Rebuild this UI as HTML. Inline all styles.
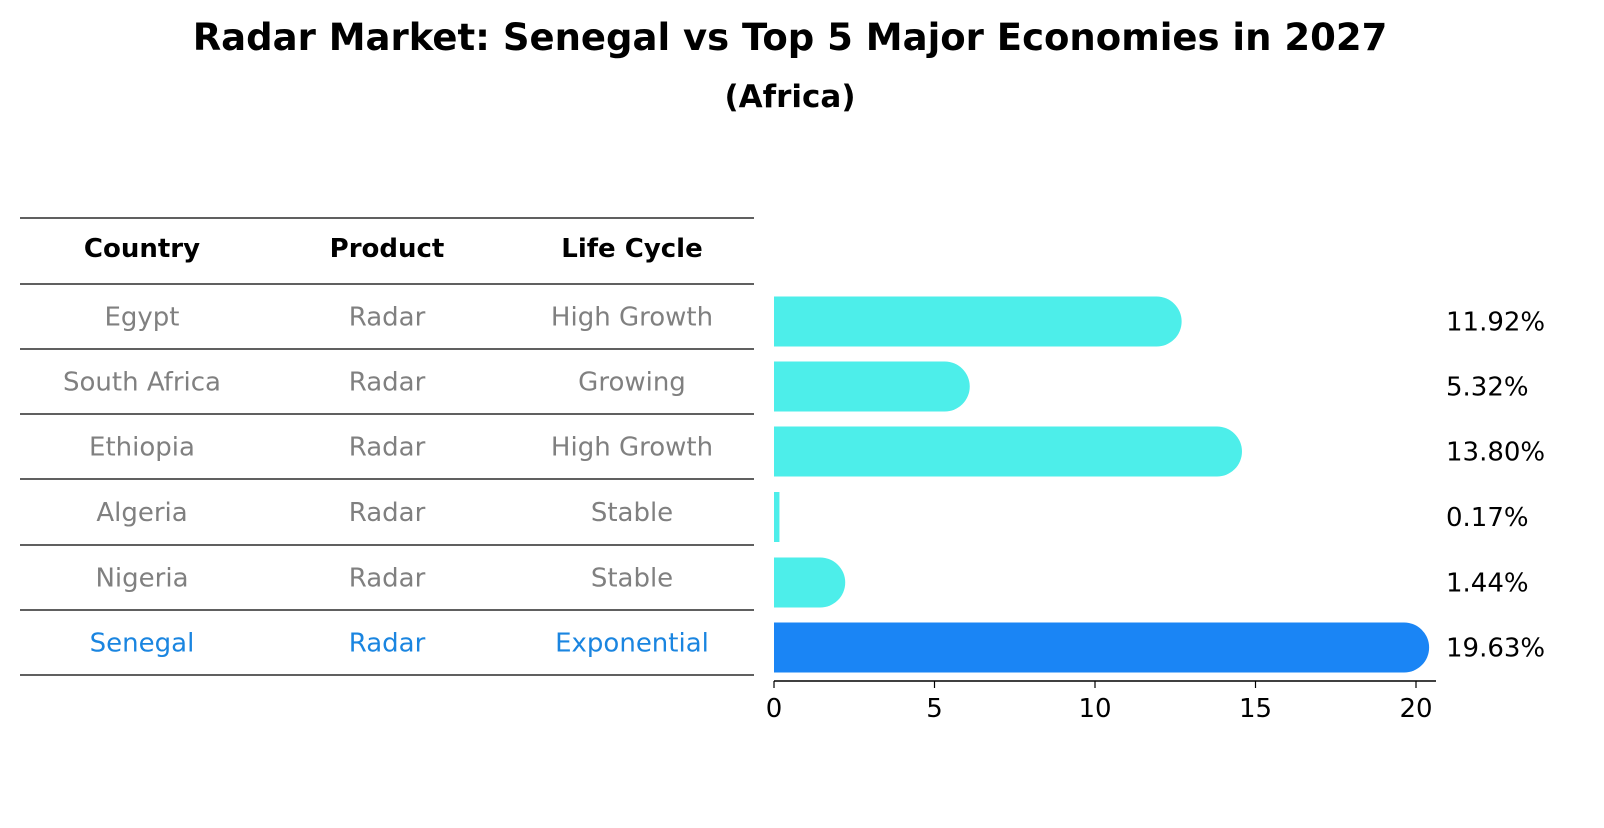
<!DOCTYPE html>
<html><head><meta charset="utf-8"><style>
body{margin:0;background:#fff;font-family:"Liberation Sans","DejaVu Sans",sans-serif;}
svg text{font-family:"DejaVu Sans","Liberation Sans",sans-serif;}
</style></head><body>
<svg id="c" width="1604" height="823" xmlns="http://www.w3.org/2000/svg">
<text x="790" y="50" text-anchor="middle" font-size="37" font-weight="bold">Radar Market: Senegal vs Top 5 Major Economies in 2027</text>
<text x="790" y="107" text-anchor="middle" font-size="31" font-weight="bold">(Africa)</text>
<g id="tbl"></g>
<g id="bars"></g>
<g id="axis"></g>
</svg>
<script>
const countries=["Egypt","South Africa","Ethiopia","Algeria","Nigeria","Senegal"];
const products=["Radar","Radar","Radar","Radar","Radar","Radar"];
const lifecycles=["High Growth","Growing","High Growth","Stable","Stable","Exponential"];
const values=[11.92,5.32,13.80,0.17,1.44,19.63];
const ticks=[0,5,10,15,20];
const NS="http://www.w3.org/2000/svg";
function mk(t,a,p){const e=document.createElementNS(NS,t);for(const k in a)e.setAttribute(k,a[k]);p.appendChild(e);return e;}
const x0=774,ppu=32.1;
const xs=v=>x0+v*ppu;
const tbl=document.getElementById('tbl');
const cols=[142,387,632];
const hdr=["Country","Product","Life Cycle"];
hdr.forEach((h,j)=>{const t=mk('text',{x:cols[j],y:257,'text-anchor':'middle','font-size':'26','font-weight':'bold'},tbl);t.textContent=h;

});
const lineYs=[218,284,349,414,479,545,610,675];
lineYs.forEach((y,k)=>{const l=mk('line',{x1:20,x2:754,y1:y,y2:y,stroke:'#000','stroke-width':1.2},tbl);

});
countries.forEach((c,i)=>{const y=(lineYs[i+1]+lineYs[i+2])/2+9;const col=i==5?'#1a85e0':'#808080';
[c,products[i],lifecycles[i]].forEach((s,j)=>{const t=mk('text',{x:cols[j],y:y,'text-anchor':'middle','font-size':'26',fill:col},tbl);t.textContent=s;

});});
const bars=document.getElementById('bars');
const bh=50;
values.forEach((v,i)=>{const cy=(lineYs[i+1]+lineYs[i+2])/2+5;const w=xs(v)-x0;const col=i==5?'#1a85f5':'#4deeea';
let d;
if(w<bh/2){const ww=Math.max(w,5);d=`M${x0},${cy-bh/2}h${ww}v${bh}h${-ww}z`;}
else{d=`M${x0},${cy-bh/2}H${x0+w}A${bh/2},${bh/2} 0 0 1 ${x0+w},${cy+bh/2}H${x0}Z`;}
const p=mk('path',{d:d,fill:col},bars);


const t=mk('text',{x:1446,y:cy+9,'font-size':'26'},bars);t.textContent=v.toFixed(2)+'%';

});
const ax=document.getElementById('axis');
mk('line',{x1:774,x2:1436,y1:681,y2:681,stroke:'#000','stroke-width':1.5},ax);
ticks.forEach(t=>{mk('line',{x1:xs(t),x2:xs(t),y1:681,y2:688,stroke:'#000','stroke-width':1.2},ax);
const tx=mk('text',{x:xs(t),y:717,'text-anchor':'middle','font-size':'26'},ax);tx.textContent=t;

});
</script>
</body></html>
